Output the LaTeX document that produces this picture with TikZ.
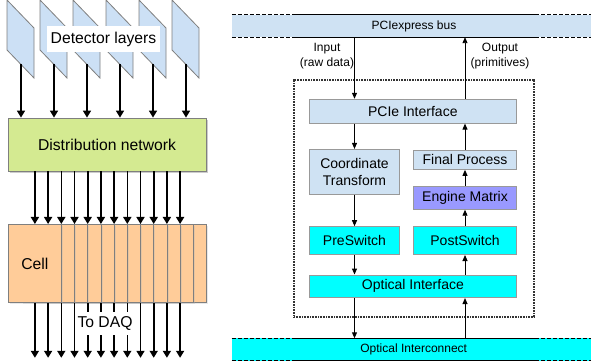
\documentclass[tikz,border=0pt]{standalone}
\usepackage{fontspec}
\setmainfont{Liberation Sans}
\usetikzlibrary{arrows.meta,positioning,shadows}
\definecolor{edge}{HTML}{7F7F7F}
\definecolor{lightedge}{HTML}{999999}
\definecolor{layer}{HTML}{CCE0F5}
\definecolor{netgreen}{HTML}{D4EA91}
\definecolor{peach}{HTML}{FFCC99}
\definecolor{paleblue}{HTML}{CFE2F3}
\definecolor{engine}{HTML}{9999FF}
\definecolor{aqua}{HTML}{00FFFF}
\definecolor{framec}{HTML}{333333}
\tikzset{
  layerbox/.style={draw=edge, fill=layer, line width=0.8pt},
  bigbox/.style={
    draw=edge, line width=0.8pt, inner sep=0pt,
    font=\fontsize{15.7}{18}\selectfont,
    drop shadow={shadow xshift=2pt, shadow yshift=-2pt, fill=black!40, opacity=0.5}
  },
  cellbox/.style={
    draw=edge, line width=0.8pt, inner sep=0pt, fill=peach, anchor=north west,
    font=\fontsize{15.7}{18}\selectfont,
    drop shadow={shadow xshift=1.5pt, shadow yshift=-1.5pt, fill=black!30, opacity=0.3},
    minimum width=53pt, minimum height=78pt
  },
  whitelabel/.style={fill=white, inner sep=0pt, font=\fontsize{15.7}{18}\selectfont},
  blk/.style={
    draw=lightedge, line width=0.8pt, inner sep=0pt,
    align=center, font=\fontsize{14}{17.4}\selectfont
  },
  band/.style={inner sep=0pt, minimum width=242pt, minimum height=22pt, font=\fontsize{12}{14}\selectfont},
  note/.style={align=center, inner sep=0pt, font=\fontsize{12}{15.5}\selectfont},
  framebox/.style={draw=framec, line width=1.3pt, dash pattern=on 0.9pt off 0.7pt},
  dashline/.style={line width=0.9pt, dash pattern=on 4pt off 2pt},
  arrow/.style={-{Triangle[length=7pt,width=8pt]}, line width=1.6pt},
  thinarr/.style={-{Triangle[length=6pt,width=5pt]}, line width=0.9pt}
}
\begin{document}
\begin{tikzpicture}[x=1pt, y=-1pt]
  \useasboundingbox (0,0) rectangle (591,363);

  % detector layers
  \foreach \i in {0,...,5}{
    \draw[layerbox] (7+33*\i,0) -- ++(27,28) -- ++(0,50) -- ++(-27,-28) -- cycle;
    \coordinate (det\i) at (21+33*\i,64);
  }
  \node[whitelabel, minimum width=113pt, minimum height=26pt] (detlabel) at (103.5,39) {Detector layers};

  \node[bigbox, fill=netgreen, minimum width=198pt, minimum height=53pt] (dist) at (107,144.5) {Distribution network};
  \foreach \i in {0,...,5}
    \draw[arrow] (det\i) -- (det\i |- dist.north);

  % cells, back to front
  \foreach \i in {11,...,0}
    \node[cellbox] (cell\i) at (8+13.2*\i,224) {\ifnum\i=0 Cell\fi};
  \foreach \i in {0,...,11}{
    \path (cell\i.south) ++(0,55) coordinate (out\i);
    \draw[arrow] (dist.south -| cell\i) -- (cell\i.north);
    \draw[arrow] (cell\i.south) -- (out\i);
  }
  \node[whitelabel, minimum width=60pt, minimum height=23pt] (daq) at (105,323.5) {To DAQ};

  % board
  \node[framebox, minimum width=240pt, minimum height=237pt] (fpga) at (414,198.5) {};

  \node[band, fill=paleblue] (pcibus) at (414,26) {PCIexpress bus};
  \node[band, fill=aqua] (optlink) at (413.7,349.5) {Optical Interconnect};
  \foreach \b/\c in {pcibus/paleblue,optlink/aqua}{
    \fill[\c] ([xshift=-61pt]\b.north west) rectangle (\b.south west);
    \fill[\c] (\b.north east) rectangle ([xshift=56pt]\b.south east);
    \draw[line width=0.9pt] (\b.north west) -- (\b.north east);
    \draw[line width=0.9pt] (\b.south west) -- (\b.south east);
    \draw[dashline] ([xshift=-61pt]\b.north west) -- (\b.north west);
    \draw[dashline] ([xshift=-61pt]\b.south west) -- (\b.south west);
    \draw[dashline] (\b.north east) -- ([xshift=56pt]\b.north east);
    \draw[dashline] (\b.south east) -- ([xshift=56pt]\b.south east);
  }

  \node[blk, fill=paleblue, minimum width=207.5pt, minimum height=24pt] (pcie) at (412.8,111.2) {PCIe Interface};
  \node[blk, fill=paleblue, minimum width=90pt, minimum height=45pt] (coord) at (354.5,171.8) {Coordinate\\Transform};
  \node[blk, fill=paleblue, minimum width=103pt, minimum height=19.5pt] (final) at (465,159.7) {Final Process};
  \node[blk, fill=engine, minimum width=102.4pt, minimum height=23.3pt] (engine) at (465,197.7) {Engine Matrix};
  \node[blk, fill=aqua, minimum width=90.7pt, minimum height=28pt] (preswitch) at (354.5,240.6) {PreSwitch};
  \node[blk, fill=aqua, minimum width=103.4pt, minimum height=28pt] (postswitch) at (465,240.6) {PostSwitch};
  \node[blk, fill=aqua, minimum width=207.7pt, minimum height=22.7pt] (optif) at (412.9,286.3) {Optical Interface};

  \node[note] (inlabel) at (327,56) {Input\\(raw data)};
  \node[note] (outlabel) at (500,56) {Output\\(primitives)};

  \draw[thinarr] (pcibus.south -| coord) -- (pcie.north -| coord);
  \draw[thinarr] (pcie.north -| final) -- (pcibus.south -| final);
  \draw[thinarr] (pcie.south -| coord) -- (coord.north);
  \draw[thinarr] (coord.south) -- (preswitch.north);
  \draw[thinarr] (preswitch.south) -- (optif.north -| preswitch);
  \draw[thinarr] (optif.north -| postswitch) -- (postswitch.south);
  \draw[thinarr] (postswitch.north) -- (engine.south);
  \draw[thinarr] (engine.north) -- (final.south);
  \draw[thinarr] (final.north) -- (pcie.south -| final);
  \draw[thinarr] (optif.south -| coord) -- (optlink.north -| coord);
  \draw[thinarr] (optlink.north -| final) -- (optif.south -| final);
\end{tikzpicture}
\end{document}
